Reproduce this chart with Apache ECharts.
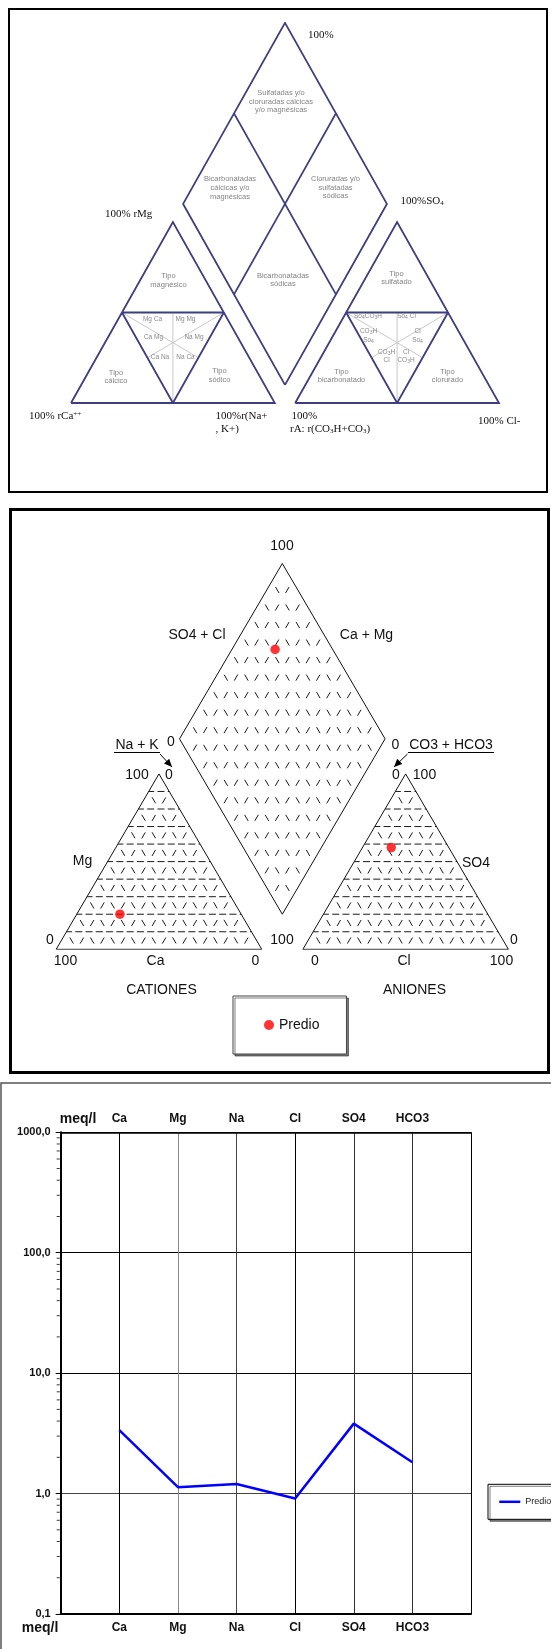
<!DOCTYPE html>
<html><head><meta charset="utf-8">
<script src="https://cdn.jsdelivr.net/npm/echarts@6/dist/echarts.min.js"></script>
<style>html,body{margin:0;padding:0;background:#fff}#c{width:551px;height:1649px}</style>
</head><body><div id="c"></div><script>
// ---------------- DATA ----------------
const sampleName = 'Predio';
const cationNames = ['Ca', 'Mg', 'Na + K'];
const cationPct = [59, 20, 21];            // % meq (Ca, Mg, Na+K)
const anionNames = ['CO3 + HCO3', 'SO4', 'Cl'];
const anionPct = [28, 58, 14];             // % meq (CO3+HCO3, SO4, Cl)
const ions = ['Ca', 'Mg', 'Na', 'Cl', 'SO4', 'HCO3'];
const meqL = [3.37, 1.13, 1.2, 0.91, 3.81, 1.82];
const logTickValues = [0.1, 1, 10, 100, 1000];
const logTickLabels = ['0,1', '1,0', '10,0', '100,0', '1000,0'];
const logMinorTicks = [0.2,0.3,0.4,0.5,0.6,0.7,0.8,0.9, 2,3,4,5,6,7,8,9, 20,30,40,50,60,70,80,90, 200,300,400,500,600,700,800,900];

// ---------------- GEOMETRY (ternary -> cartesian, triangle side = 100) ----------------
const SQ3 = Math.sqrt(3), H = 50 * SQ3;
function tri(l, t, r, x0) { return [x0 + r * 100 + t * 50, t * H]; }
function dia(s, c, gap) { return [100 + gap / 2 + 50 * (s - c), gap / 2 * SQ3 + H * (s + c)]; }
function outlines(gap) {
  const ax = 100 + gap;
  return [
    [tri(1,0,0,0), tri(0,0,1,0), tri(0,1,0,0), tri(1,0,0,0)],
    [tri(1,0,0,ax), tri(0,0,1,ax), tri(0,1,0,ax), tri(1,0,0,ax)],
    [dia(0,0,gap), dia(1,0,gap), dia(1,1,gap), dia(0,1,gap), dia(0,0,gap)]
  ];
}
function classLines(x0) {
  return [[tri(.5,.5,0,x0), tri(0,.5,.5,x0)], [tri(.5,.5,0,x0), tri(.5,0,.5,x0), tri(0,.5,.5,x0)]];
}
function medianLines(x0) {
  return [[tri(.5,0,.5,x0), tri(.25,.5,.25,x0)], [tri(.5,.5,0,x0), tri(.25,.25,.5,x0)], [tri(0,.5,.5,x0), tri(.5,.25,.25,x0)]];
}
function gridLines(gap, horizontal) {
  const ax = 100 + gap, out = [];
  for (let k = 1; k < 10; k++) {
    const f = k / 10;
    [0, ax].forEach(x0 => {
      if (horizontal) { out.push([tri(1-f, f, 0, x0), tri(0, f, 1-f, x0)]); return; }
      out.push([tri(f, 1-f, 0, x0), tri(f, 0, 1-f, x0)]);
      out.push([tri(1-f, 0, f, x0), tri(0, 1-f, f, x0)]);
    });
    if (!horizontal) {
      out.push([dia(f, 0, gap), dia(f, 1, gap)]);
      out.push([dia(0, f, gap), dia(1, f, gap)]);
    }
  }
  return out;
}
const GAP1 = 10, GAP2 = 20;
const toLines = arr => arr.map(c => ({ coords: c }));

// sample positions in panel 2
const cf = cationPct.map(v => v / 100), af = anionPct.map(v => v / 100);
const piperPoints = [
  tri(cf[0], cf[1], cf[2], 0),
  tri(af[0], af[1], af[2], 100 + GAP2),
  dia(af[1] + af[2], cf[0] + cf[1], GAP2)
];

// ---------------- TEXT / GRAPHIC ----------------
const SANS = 'Liberation Sans, Arial, sans-serif';
const SERIF = 'Liberation Serif, Times New Roman, serif';
const g = [];
function T(x, y, text, o) {
  o = o || {};
  g.push({ type: 'text', x: x, y: y, silent: true, z: 10, style: {
    text: text, fill: o.fill || '#111', fontSize: o.size || 14, fontFamily: o.family || SANS,
    fontWeight: o.weight || 'normal', align: o.align || 'center', verticalAlign: 'middle',
    lineHeight: o.lh, rich: o.rich } });
}
function L(x1, y1, x2, y2, color, w) {
  g.push({ type: 'line', silent: true, z: 10, shape: { x1, y1, x2, y2 }, style: { stroke: color || '#000', lineWidth: w || 1 } });
}
function arrow(x1, y1, x2, y2) {
  L(x1, y1, x2, y2, '#000', 1);
  const dx = x2 - x1, dy = y2 - y1, n = Math.hypot(dx, dy), ux = dx / n, uy = dy / n;
  const bx = x2 - 8 * ux, by = y2 - 8 * uy;
  g.push({ type: 'polygon', silent: true, z: 10, shape: { points: [[x2, y2], [bx - 3.6 * uy, by + 3.6 * ux], [bx + 3.6 * uy, by - 3.6 * ux]] }, style: { fill: '#000' } });
}
// panel borders
g.push({ type: 'rect', silent: true, z: 1, shape: { x: 9, y: 9, width: 538, height: 483 }, style: { fill: 'none', stroke: '#000', lineWidth: 2 } });
g.push({ type: 'rect', silent: true, z: 1, shape: { x: 10.5, y: 509.5, width: 538, height: 563 }, style: { fill: 'none', stroke: '#000', lineWidth: 3 } });
g.push({ type: 'rect', silent: true, z: 1, shape: { x: 1, y: 1083, width: 620, height: 620 }, style: { fill: 'none', stroke: '#555', lineWidth: 1.5 } });

// panel 1 serif labels
const sr = { sub: { fontSize: 7, verticalAlign: 'bottom', fontFamily: SERIF }, sup: { fontSize: 7, verticalAlign: 'top', fontFamily: SERIF } };
const s1 = { size: 11, family: SERIF, align: 'left', rich: sr, fill: '#111' };
T(308, 35, '100%', s1);
T(400.5, 201.5, '100%SO{sub|4}', s1);
T(105, 214, '100% rMg', s1);
T(29, 416.5, '100% rCa{sup|++}', s1);
T(215.5, 416.5, '100%r(Na+', s1);
T(215.5, 429.5, ', K+)', s1);
T(291.5, 416.5, '100%', s1);
T(290, 429.5, 'rA: r(CO{sub|3}H+CO{sub|3})', s1);
T(478, 421.5, '100% Cl-', s1);
// panel 1 gray class labels
const gs = { size: 7.5, fill: '#858585', lh: 8.8 };
T(281, 101.5, 'Sulfatadas y/o\ncloruradas cálcicas\ny/o magnésicas', gs);
T(230, 188, 'Bicarbonatadas\ncálcicas y/o\nmagnésicas', gs);
T(335.5, 187.5, 'Cloruradas y/o\nsulfatadas\nsódicas', gs);
T(283, 280, 'Bicarbonatadas\nsódicas', gs);
T(168.5, 280.5, 'Tipo\nmagnésico', gs);
T(396.5, 278, 'Tipo\nsulfatado', gs);
T(116, 377, 'Tipo\ncálcico', gs);
T(219.5, 375.5, 'Tipo\nsódico', gs);
T(341.5, 376, 'Tipo\nbicarbonatado', gs);
T(447.5, 376, 'Tipo\nclorurado', gs);
const gsm = { size: 6.5, fill: '#8a8a8a', lh: 8.5, rich: { s: { fontSize: 5, verticalAlign: 'bottom', fill: '#8a8a8a' } } };
T(152.5, 319.5, 'Mg Ca', gsm); T(185.5, 319.5, 'Mg Mg', gsm);
T(153.5, 337.5, 'Ca Mg', gsm); T(194, 337.5, 'Na Mg', gsm);
T(160, 357, 'Ca Na', gsm); T(185.5, 357, 'Na Ca', gsm);
T(368, 316, 'So{s|4}CO{s|3}H', gsm); T(406.5, 316, 'So{s|4} Cl', gsm);
T(368.5, 335.5, 'CO{s|3}H\nSo{s|4}', gsm); T(417.5, 335.5, 'Cl\nSo{s|4}', gsm);
T(386.5, 356, 'CO{s|3}H\nCl', gsm); T(406, 356, 'Cl\nCO{s|3}H', gsm);

// panel 2 labels
T(282, 546.5, '100'); T(197, 635, anionNames[1] + ' + ' + anionNames[2]); T(366.5, 635, cationNames[0] + ' + ' + cationNames[1]);
T(171, 742, '0'); T(395.5, 745, '0');
T(137, 745, cationNames[2]); L(114, 752.5, 160, 752.5);
T(451, 745, anionNames[0]); L(408, 752.5, 494, 752.5);
arrow(160, 754, 172, 767); arrow(407.5, 754, 394, 767);
T(137, 775, '100'); T(169, 775, '0'); T(396, 775, '0'); T(424.5, 775, '100');
T(82.5, 861, cationNames[1]); T(476, 863, anionNames[1]);
T(50, 940, '0'); T(282, 940, '100'); T(514, 940, '0');
T(65.5, 961.5, '100'); T(155.5, 961.5, cationNames[0]); T(255.5, 961.5, '0');
T(315, 961.5, '0'); T(404, 961.5, anionNames[2]); T(501.5, 961.5, '100');
T(161.5, 990, 'CATIONES'); T(414.5, 990, 'ANIONES');

// panel 3 axis titles
T(78, 1119, 'meq/l', { weight: 'bold', size: 14 });
T(40, 1628, 'meq/l', { weight: 'bold', size: 14 });

// ---------------- CHART ----------------
const chart = echarts.init(document.getElementById('c'), null, { renderer: 'canvas' });
const hiddenAxis = (gi, min, max) => ({ gridIndex: gi, type: 'value', min, max, show: false });
const topY1 = GAP1 / 2 * SQ3 + 2 * H, topY2 = GAP2 / 2 * SQ3 + 2 * H;
const ky1 = 2.09, ky2 = 2.025;
const option = {
  animation: false,
  backgroundColor: '#fff',
  grid: [
    { left: 71, top: 403 - topY1 * ky1, width: (200 + GAP1) * 2.038, height: topY1 * ky1, containLabel: false, outerBoundsMode: 'none' },
    { left: 56.2, top: 949.3 - topY2 * ky2, width: (200 + GAP2) * 2.0555, height: topY2 * ky2, containLabel: false, outerBoundsMode: 'none' },
    { left: 60.7, top: 1132.3, width: 410.3, height: 481.7, containLabel: false, outerBoundsMode: 'none' }
  ],
  xAxis: [
    hiddenAxis(0, 0, 200 + GAP1),
    hiddenAxis(1, 0, 200 + GAP2),
    { gridIndex: 2, type: 'value', min: 0, max: 7, interval: 1, position: 'bottom',
      axisLine: { lineStyle: { color: '#000', width: 2 } }, axisTick: { show: false },
      axisLabel: { formatter: v => ions[v - 1] || '', fontWeight: 'bold', fontSize: 12, color: '#111', fontFamily: SANS, margin: 8, showMinLabel: true, showMaxLabel: true },
      splitLine: { show: true, lineStyle: { color: ['#000', '#000', '#888', '#444', '#000', '#333', '#333', '#000'], width: 1 } } },
    { gridIndex: 2, type: 'value', min: 0, max: 7, interval: 1, position: 'top',
      axisLine: { lineStyle: { color: '#000', width: 1.5 } }, axisTick: { show: false },
      axisLabel: { formatter: v => ions[v - 1] || '', fontWeight: 'bold', fontSize: 12, color: '#111', fontFamily: SANS, margin: 8 },
      splitLine: { show: false } }
  ],
  yAxis: [
    hiddenAxis(0, 0, topY1),
    hiddenAxis(1, 0, topY2),
    { gridIndex: 2, type: 'log', logBase: 10, min: 0.1, max: 1000,
      axisLine: { show: true, lineStyle: { color: '#000', width: 2 } },
      axisTick: { show: true, inside: false, length: 5, lineStyle: { color: '#000' } },
      axisLabel: { formatter: v => logTickLabels[logTickValues.findIndex(t => Math.abs(t - v) < t * 1e-6)] || '', fontWeight: 'bold', fontSize: 11, color: '#111', fontFamily: SANS, margin: 10 },
      splitLine: { show: true, lineStyle: { color: ['#000', '#444', '#000', '#000', '#000'], width: 1 } } }
  ],
  legend: [
    { data: [{ name: 'PredioPiper', icon: 'circle' }], formatter: () => sampleName, left: 233, top: 996,
      padding: [22, 27, 22, 31], itemWidth: 10, itemHeight: 10, borderColor: '#444', borderWidth: 1, backgroundColor: '#fff',
      shadowColor: 'rgba(0,0,0,0.5)', shadowOffsetX: 2, shadowOffsetY: 2, shadowBlur: 0,
      textStyle: { fontSize: 14, fontFamily: SANS, color: '#111' }, selectedMode: false },
    { data: [{ name: sampleName, icon: 'rect' }], left: 488, top: 1484.3, orient: 'vertical',
      padding: [13, 10, 13, 11.3], itemWidth: 21, itemHeight: 2.5, borderColor: '#000', borderWidth: 1, backgroundColor: '#fff',
      shadowColor: 'rgba(0,0,0,0.5)', shadowOffsetX: 2, shadowOffsetY: 2, shadowBlur: 0,
      textStyle: { fontSize: 9, fontFamily: SANS, color: '#222' }, selectedMode: false }
  ],
  tooltip: { show: false },
  series: [
    { type: 'lines', coordinateSystem: 'cartesian2d', xAxisIndex: 0, yAxisIndex: 0, polyline: true, silent: true, z: 3,
      lineStyle: { color: '#c9c9c9', width: 1, opacity: 1 }, data: toLines(medianLines(0).concat(medianLines(100 + GAP1))) },
    { type: 'lines', coordinateSystem: 'cartesian2d', xAxisIndex: 0, yAxisIndex: 0, polyline: true, silent: true, z: 4,
      lineStyle: { color: '#3d3d80', width: 1.8, opacity: 1 },
      data: toLines(outlines(GAP1).concat(classLines(0), classLines(100 + GAP1),
        [[dia(.5, 0, GAP1), dia(.5, 1, GAP1)], [dia(0, .5, GAP1), dia(1, .5, GAP1)]])) },
    { type: 'lines', coordinateSystem: 'cartesian2d', xAxisIndex: 1, yAxisIndex: 1, polyline: true, silent: true, z: 3,
      lineStyle: { color: '#1a1a1a', width: 1, opacity: 1, type: [7, 13.3], dashOffset: 13.65 }, data: toLines(gridLines(GAP2, false)) },
    { type: 'lines', coordinateSystem: 'cartesian2d', xAxisIndex: 1, yAxisIndex: 1, polyline: true, silent: true, z: 3,
      lineStyle: { color: '#1a1a1a', width: 1, opacity: 1, type: [7, 3.28], dashOffset: 1.5 }, data: toLines(gridLines(GAP2, true)) },
    { type: 'lines', coordinateSystem: 'cartesian2d', xAxisIndex: 1, yAxisIndex: 1, polyline: true, silent: true, z: 4,
      lineStyle: { color: '#111', width: 1, opacity: 1 }, data: toLines(outlines(GAP2)) },
    { name: 'PredioPiper', type: 'scatter', xAxisIndex: 1, yAxisIndex: 1, symbol: 'circle', symbolSize: 9.5, z: 6,
      itemStyle: { color: '#ff0000' }, data: piperPoints, silent: true },
    { name: sampleName, type: 'line', xAxisIndex: 2, yAxisIndex: 2, symbol: 'none', z: 6,
      lineStyle: { color: '#0000ff', width: 2.5 }, itemStyle: { color: '#0000ff' },
      data: ions.map((n, i) => [i + 1, meqL[i]]) },
    { type: 'scatter', xAxisIndex: 2, yAxisIndex: 2, symbol: 'rect', symbolSize: [3, 1], symbolOffset: [-2.5, 0],
      clip: false, silent: true, itemStyle: { color: '#000' }, data: logMinorTicks.map(v => [0, v]) }
  ],
  graphic: { elements: g }
};
chart.setOption(option);
</script></body></html>
